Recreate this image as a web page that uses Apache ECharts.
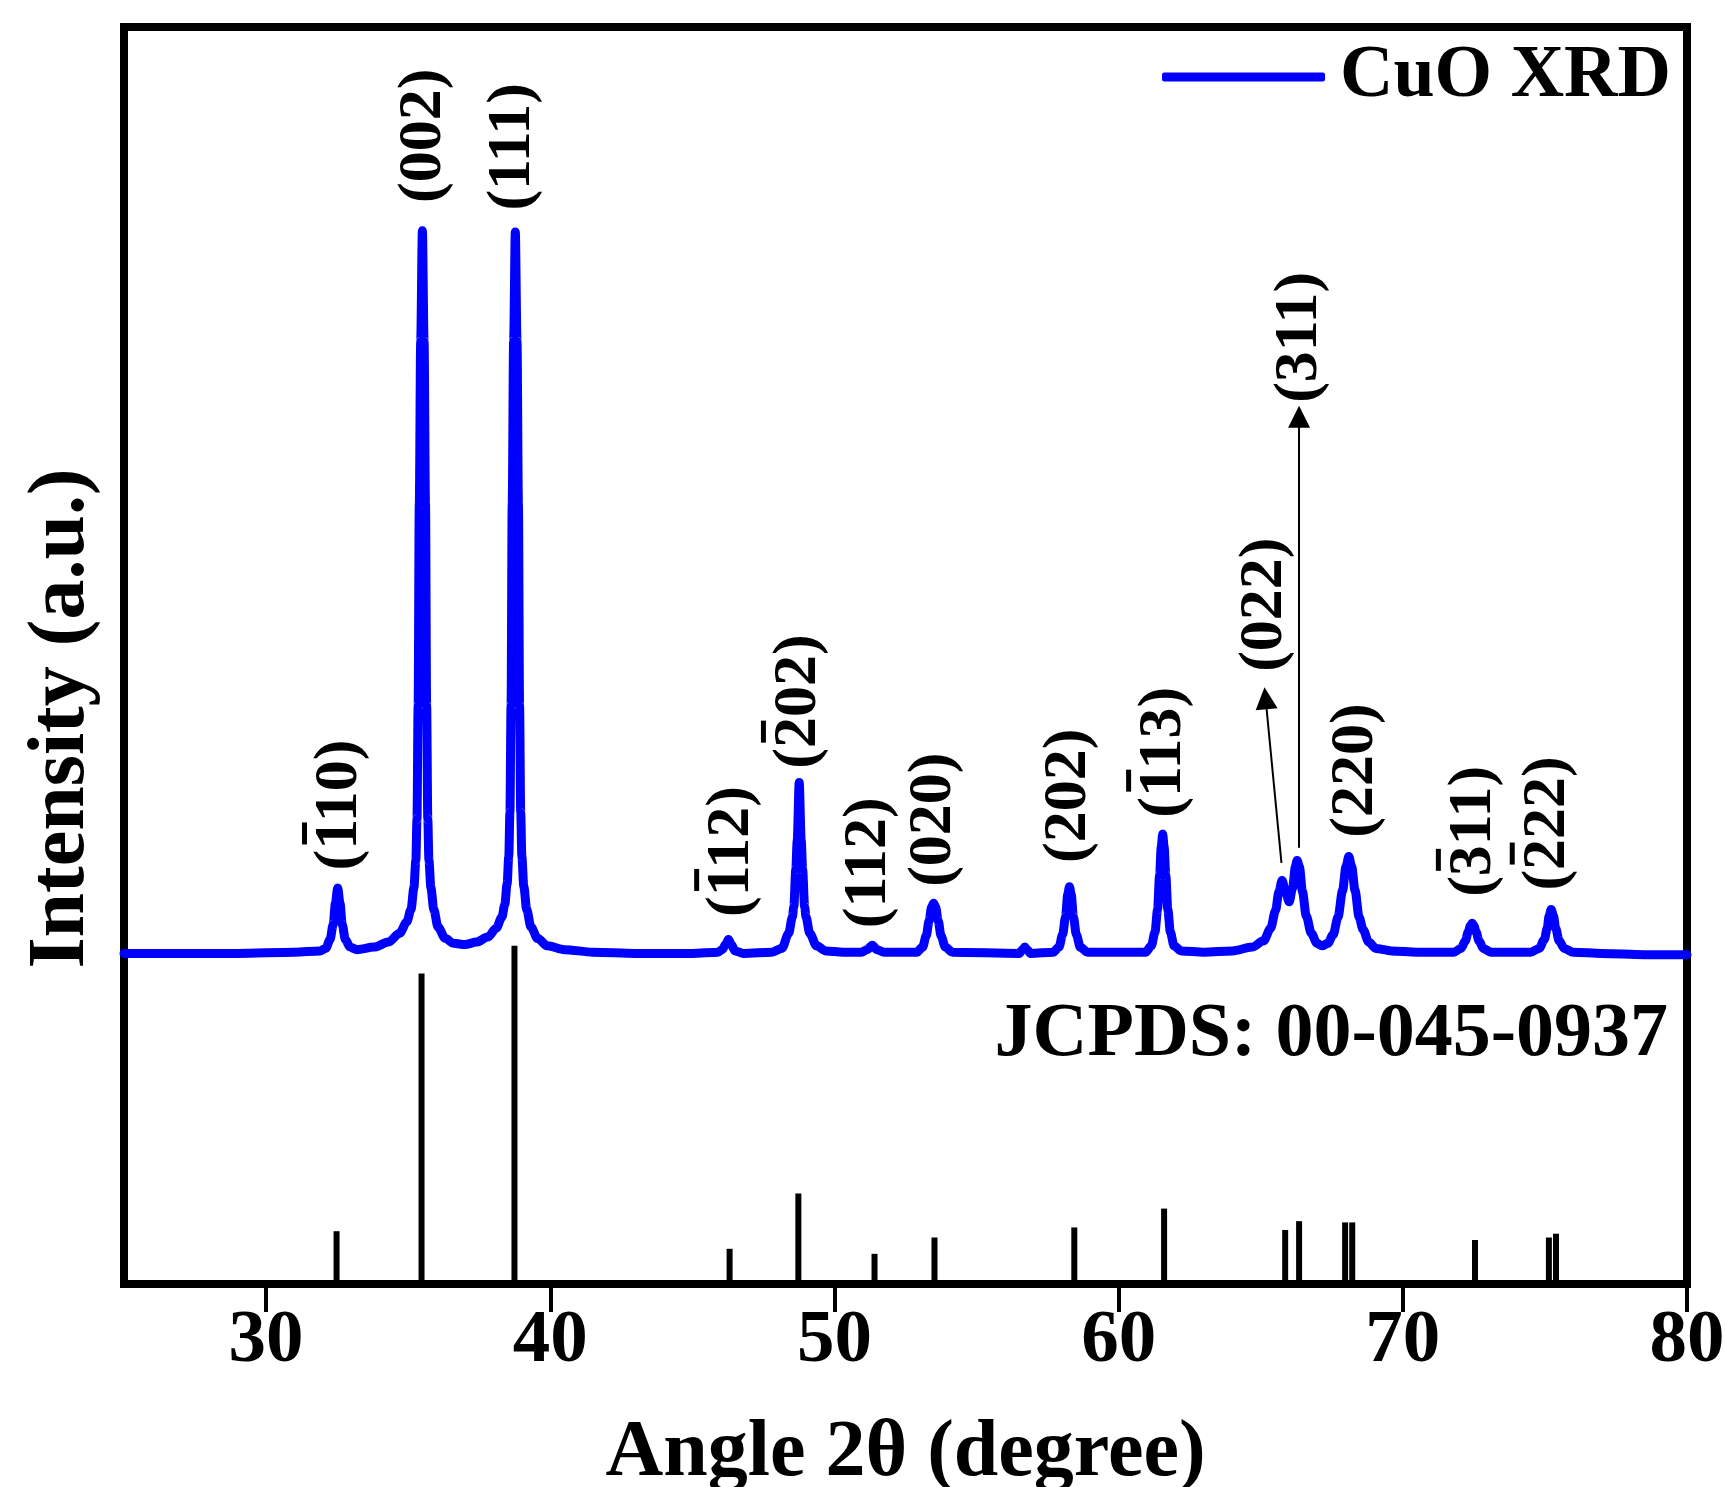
<!DOCTYPE html>
<html>
<head>
<meta charset="utf-8">
<title>CuO XRD</title>
<script src="https://cdn.jsdelivr.net/npm/echarts@6/dist/echarts.min.js"></script>
<style>
    html, body { margin: 0; padding: 0; background: #fff; }
    #chart { width: 1726px; height: 1487px; }
</style>
</head>
<body>
<div id="chart"></div>
<script>
// tick labels of the 2theta axis
let xTicks = [30, 40, 50, 60, 70, 80];

let xrdCurve = [
    [25.0, 26.3], [27.0, 26.3], [29.0, 26.3], [31.0, 26.4], [31.9, 26.5],
    // (-110)
    [32.1, 26.7], [32.25, 27.4], [32.36, 28.6], [32.44, 30.3], [32.52, 31.5], [32.6, 30.3],
    [32.68, 28.6], [32.79, 27.4], [32.95, 26.8], [33.2, 26.6], [33.8, 26.8], [34.3, 27.2],
    [34.7, 27.9], [34.95, 28.8],
    // (002)
    [35.1, 29.8], [35.2, 31.5], [35.27, 33.7], [35.31, 37], [35.35, 46], [35.39, 62],
    [35.44, 75], [35.5, 83.8], [35.56, 75], [35.61, 62], [35.65, 46], [35.69, 37],
    [35.73, 33.7], [35.8, 31.5], [35.9, 29.8], [36.05, 28.4], [36.3, 27.5], [36.6, 27.1],
    [37.0, 27.0], [37.4, 27.2], [37.8, 27.6], [38.1, 28.3], [38.3, 29.2],
    // (111)
    [38.4, 30.2], [38.48, 31.8], [38.54, 34], [38.58, 37.5], [38.62, 46], [38.66, 62],
    [38.71, 75], [38.77, 83.7], [38.83, 75], [38.88, 62], [38.92, 46], [38.96, 37.5],
    [39.0, 34], [39.07, 31.6], [39.17, 29.8], [39.32, 28.4], [39.55, 27.5], [39.9, 26.9],
    [40.5, 26.6], [41.5, 26.4], [43.0, 26.3], [45.0, 26.3], [45.9, 26.4],
    // (-112)
    [46.05, 26.6], [46.17, 27.0], [46.27, 27.4], [46.37, 27.0], [46.5, 26.5], [46.8, 26.3],
    // (-202)
    [47.8, 26.4], [48.15, 26.7], [48.39, 27.9], [48.52, 29.2], [48.57, 30.0], [48.64, 33],
    [48.69, 35.3], [48.76, 39.9], [48.83, 35.3], [48.88, 33], [48.95, 30.0], [49.0, 29.2],
    [49.13, 27.9], [49.37, 26.9], [49.7, 26.5], [50.3, 26.4],
    // (112)
    [50.95, 26.4], [51.15, 26.6], [51.33, 26.95], [51.5, 26.6], [51.75, 26.4],
    // (020)
    [52.9, 26.4], [53.1, 26.8], [53.23, 27.7], [53.33, 28.9], [53.42, 30.0], [53.49, 30.3],
    [53.56, 30.0], [53.65, 28.9], [53.75, 27.7], [53.9, 26.8], [54.15, 26.4],
    [56.5, 26.3], [56.62, 26.6], [56.7, 26.8], [56.78, 26.6], [56.9, 26.3],
    // (202)
    [57.7, 26.4], [57.9, 26.8], [58.03, 27.8], [58.13, 29.2], [58.21, 31.0], [58.27, 31.6],
    [58.33, 31.0], [58.41, 29.2], [58.51, 27.8], [58.65, 26.8], [58.9, 26.4],
    // (-113)
    [60.95, 26.4], [61.15, 26.9], [61.28, 28.0], [61.37, 29.8], [61.44, 32.5], [61.5, 34.8],
    [61.55, 35.8], [61.6, 34.8], [61.66, 32.5], [61.73, 29.8], [61.82, 28.0], [61.95, 26.9],
    [62.2, 26.5], [63.0, 26.4],
    // (022), (311), (220)
    [64.0, 26.5], [64.7, 26.8], [65.1, 27.3], [65.35, 28.3], [65.52, 29.7], [65.64, 31.2],
    [65.75, 32.1], [65.88, 31.2], [66.0, 30.4], [66.12, 31.5], [66.22, 33.2], [66.28, 33.7],
    [66.36, 33.2], [66.47, 31.2], [66.6, 29.3], [66.78, 27.9], [66.98, 27.1], [67.16, 26.9],
    [67.36, 27.1], [67.55, 27.8], [67.72, 29.2], [67.88, 31.3], [68.0, 33.2], [68.1, 34.0],
    [68.2, 33.2], [68.32, 31.3], [68.46, 29.2], [68.6, 28.2], [68.8, 27.2], [69.05, 26.7],
    [69.6, 26.5], [70.5, 26.4],
    // (-311)
    [71.8, 26.4], [72.05, 26.7], [72.2, 27.3], [72.3, 28.0], [72.38, 28.5], [72.44, 28.7],
    [72.5, 28.5], [72.58, 28.0], [72.68, 27.3], [72.83, 26.7], [73.1, 26.4],
    // (-222)
    [74.5, 26.4], [74.8, 26.7], [74.98, 27.4], [75.08, 28.3], [75.15, 29.3], [75.22, 29.8],
    [75.3, 29.3], [75.38, 28.3], [75.5, 27.3], [75.68, 26.7], [76.0, 26.4],
    [77.0, 26.3], [78.5, 26.2], [80.0, 26.2]
];

// reference card lines (JCPDS 00-045-0937), [2theta, height]
let jcpdsLines = [
    [32.48, 4.2], [35.47, 24.7], [38.74, 26.9], [46.31, 2.8], [48.73, 7.2], [51.41, 2.4],
    [53.52, 3.7], [58.44, 4.5], [61.6, 6.0], [65.86, 4.3], [66.35, 5.0], [67.97, 4.9],
    [68.22, 4.9], [72.54, 3.5], [75.14, 3.7], [75.39, 4.0]
];

// Miller indices; barred = first digit carries an overbar
let peakLabels = ['(110)', '(002)', '(111)', '(112)', '(202)', '(112)', '(020)',
    '(202)', '(113)', '(022)', '(311)', '(220)', '(311)', '(222)'];
let barred = [true, false, false, true, true, false, false, false, true, false, false, false, true, true];
// where each label sits: 2theta and the lower end of the text
let labelAngle = [32.6, 35.55, 38.7, 46.4, 48.75, 51.2, 53.5, 58.25, 61.6, 65.16, 66.37, 68.35, 72.5, 75.1];
let labelBase = [32.9, 86.0, 85.4, 29.2, 41.0, 28.3, 31.6, 33.5, 37.1, 48.7, 70.1, 35.5, 30.8, 31.3];

// arrows for the two overlapping peaks: from peak top towards the label
let arrowFrom = [[65.73, 33.5], [66.35, 34.7]];
let arrowTo = [[65.17, 46.6], [66.35, 69.0]];

let font = "'Liberation Serif', 'Times New Roman', serif";

function setChart(){
    let myChart = echarts.init(document.getElementById('chart'));

    let arrows = [];
    for(let i = 0;i<arrowFrom.length;i++){
        arrows.push([{coord: arrowFrom[i]}, {coord: arrowTo[i]}]);
    }

    let option = {
        animation: false,
        backgroundColor: '#fff',
        title: {
            text: 'JCPDS: 00-045-0937',
            right: 58,
            top: 997,
            padding: 0,
            textStyle: {fontFamily: font, fontSize: 76, fontWeight: 'bold', color: '#000'}
        },
        legend: {
            data: ['CuO XRD'],
            right: 55,
            top: 40,
            padding: 0,
            icon: 'roundRect',
            itemWidth: 163,
            itemHeight: 9,
            textStyle: {fontFamily: font, fontSize: 74, fontWeight: 'bold', color: '#000', padding: [0, 0, 0, 10]}
        },
        grid: {
            left: 124,
            right: 39,
            top: 27,
            bottom: 203,
            outerBoundsMode: 'none',
            containLabel: false,
            show: true,
            borderColor: '#000',
            borderWidth: 8,
            backgroundColor: 'transparent'
        },
        xAxis: {
            type: 'value',
            min: 25,
            max: 80,
            name: 'Angle 2\u03b8 (degree)',
            nameLocation: 'middle',
            nameGap: 130,
            nameTextStyle: {fontFamily: font, fontSize: 80, fontWeight: 'bold', color: '#000'},
            axisLine: {show: false},
            axisTick: {show: true, inside: false, length: 28, customValues: xTicks,
                lineStyle: {color: '#000', width: 4}},
            axisLabel: {customValues: xTicks, margin: 20, fontFamily: font, fontSize: 75,
                fontWeight: 'bold', color: '#000'},
            splitLine: {show: false}
        },
        yAxis: {
            type: 'value',
            min: 0,
            max: 100,
            name: 'Intensity (a.u.)',
            nameLocation: 'middle',
            nameGap: 22,
            nameTextStyle: {fontFamily: font, fontSize: 80, fontWeight: 'bold', color: '#000',
                padding: [0, 126, 0, 0]},
            axisLine: {show: false},
            axisTick: {show: false},
            axisLabel: {show: false},
            splitLine: {show: false}
        },
        series: [{
            name: 'JCPDS',
            type: 'bar',
            data: jcpdsLines,
            barWidth: 6,
            itemStyle: {color: '#000'},
            z: 2
        },{
            name: 'CuO XRD',
            type: 'line',
            data: xrdCurve,
            symbol: 'none',
            smooth: 0.3,
            smoothMonotone: 'x',
            lineStyle: {color: '#0000ff', width: 9, join: 'round', cap: 'round'},
            itemStyle: {color: '#0000ff'},
            z: 3
        },{
            name: 'hkl',
            type: 'scatter',
            data: labelAngle.map(function (a, i){ return [a, labelBase[i]]; }),
            symbolSize: 1,
            itemStyle: {color: 'transparent', opacity: 1},
            silent: true,
            label: {
                show: true,
                position: 'inside',
                rotate: 90,
                align: 'left',
                verticalAlign: 'middle',
                opacity: 1,
                color: '#000',
                textBorderWidth: 0,
                formatter: function (p){
                    let i = p.dataIndex;
                    if(barred[i]){
                        return '{sp| }{bar| }\n{t|' + peakLabels[i] + '}\n{pad| }';
                    }
                    return '{t|' + peakLabels[i] + '}';
                },
                rich: {
                    t: {fontFamily: font, fontSize: 62, fontWeight: 'bold', color: '#000', lineHeight: 66},
                    sp: {width: 26, height: 5, lineHeight: 5, fontSize: 1},
                    bar: {width: 22, height: 5, lineHeight: 5, fontSize: 1, backgroundColor: '#000'},
                    pad: {height: 5, lineHeight: 5, fontSize: 1}
                }
            },
            markLine: {
                silent: true,
                symbol: ['none', 'triangle'],
                symbolSize: 22,
                label: {show: false},
                itemStyle: {color: '#000'},
                lineStyle: {color: '#000', width: 2, type: 'solid', opacity: 1},
                data: arrows
            },
            z: 4
        }]
    };

    myChart.setOption(option);
}

window.onload = function (){
    setChart();
}
</script>
</body>
</html>
